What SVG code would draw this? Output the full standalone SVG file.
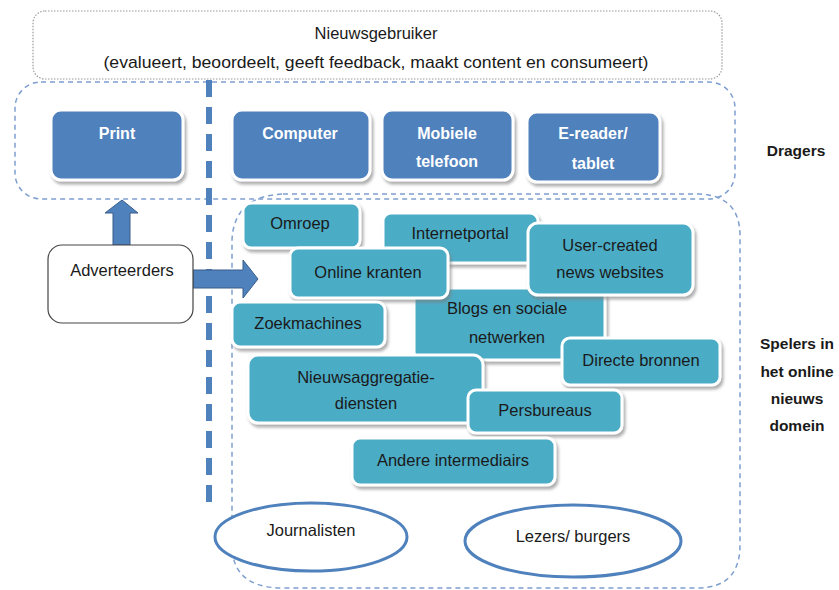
<svg xmlns="http://www.w3.org/2000/svg" width="839" height="590" viewBox="0 0 839 590">
<defs>
<style>
text{font-family:"Liberation Sans",Arial,sans-serif;font-size:16.5px;text-anchor:middle;fill:#1a1a1a}
.blue rect.b{fill:#4F81BD;stroke:#fff;stroke-width:3;filter:url(#sh)}
.blue text{fill:#fff;font-weight:bold;font-size:16px}
.teal rect{fill:#4BACC6;stroke:#fff;stroke-width:3;filter:url(#sh)}
.ell{fill:#fff;stroke:#4F81BD;stroke-width:3}
.cont{fill:none;stroke:#7F9FD0;stroke-width:1.5;stroke-dasharray:5 4}
.arrow{fill:#4F81BD;stroke:#385D8A;stroke-width:1}
.side{font-weight:bold;font-size:15.5px}
</style>
<filter id="sh" x="-10%" y="-10%" width="125%" height="135%">
<feDropShadow dx="2" dy="3" stdDeviation="1.5" flood-color="#7a7a7a" flood-opacity="0.6"/>
</filter>
</defs>
<rect width="839" height="590" fill="#fff"/>

<g id="containers">
<rect x="33" y="11" width="689" height="68" rx="12" fill="#fff" stroke="#9a9a9a" stroke-width="1.2" stroke-dasharray="1.5 1.5"/>
<rect class="cont" x="15" y="82" width="720" height="117" rx="26"/>
<path class="cont" d="M283,194 L700,194 Q740,196 740,236 L740,545 Q740,588 697,588 L283,588 Q232,588 232,545 L232,240 Q234,196 283,194 Z"/>
</g>

<g id="nieuwsgebruiker">
<text x="376" y="39">Nieuwsgebruiker</text>
<text x="376" y="68" textLength="545" lengthAdjust="spacingAndGlyphs" style="font-size:17px">(evalueert, beoordeelt, geeft feedback, maakt content en consumeert)</text>
</g>

<g id="divider">
<line x1="209" y1="80" x2="209" y2="502" stroke="#4F81BD" stroke-width="6" stroke-dasharray="17 10"/>
</g>

<g id="print" class="blue"><rect class="b" x="51" y="110" width="132" height="70" rx="10"/><text x="117" y="139">Print</text></g>
<g id="computer" class="blue"><rect class="b" x="232" y="110" width="138" height="70" rx="10"/><text x="300" y="139">Computer</text></g>
<g id="mobiele" class="blue"><rect class="b" x="382" y="110" width="131" height="70" rx="10"/><text x="447" y="139">Mobiele</text><text x="447" y="167">telefoon</text></g>
<g id="ereader" class="blue"><rect class="b" x="527" y="112" width="133" height="70" rx="10"/><text x="593" y="139">E-reader/</text><text x="593" y="169">tablet</text></g>

<g id="connectors">
<polygon class="arrow" points="113,245 113,213 105,213 122,200 138,213 130,213 130,245"/>
<polygon class="arrow" points="193,270 243,270 243,260 258,279 243,298 243,288 193,288"/>
</g>

<g id="adverteerders">
<rect x="48" y="245" width="145" height="78" rx="14" fill="#fff" stroke="#444" stroke-width="1.2"/>
<text x="122" y="276">Adverteerders</text>
</g>

<g id="omroep" class="teal"><rect x="243" y="203" width="117" height="45" rx="8"/><text x="300" y="229">Omroep</text></g>
<g id="internetportal" class="teal"><rect x="383" y="213" width="155" height="50" rx="8"/><text x="460" y="239">Internetportal</text></g>
<g id="blogs" class="teal"><rect x="414" y="288" width="191" height="72" rx="8"/><text x="507" y="314">Blogs en sociale</text><text x="507" y="343">netwerken</text></g>
<g id="usercreated" class="teal"><rect x="528" y="223" width="165" height="72" rx="10"/><text x="610" y="251">User-created</text><text x="610" y="278">news websites</text></g>
<g id="onlinekranten" class="teal"><rect x="290" y="248" width="158" height="50" rx="8"/><text x="368" y="278">Online kranten</text></g>
<g id="zoekmachines" class="teal"><rect x="232" y="302" width="153" height="45" rx="8"/><text x="308" y="329">Zoekmachines</text></g>
<g id="nieuwsaggregatie" class="teal"><rect x="248" y="355" width="235" height="68" rx="10"/><text x="366" y="383">Nieuwsaggregatie-</text><text x="366" y="409">diensten</text></g>
<g id="directebronnen" class="teal"><rect x="562" y="338" width="158" height="47" rx="8"/><text x="641" y="366">Directe bronnen</text></g>
<g id="persbureaus" class="teal"><rect x="468" y="390" width="154" height="43" rx="8"/><text x="545" y="416">Persbureaus</text></g>
<g id="andere" class="teal"><rect x="352" y="438" width="203" height="47" rx="8"/><text x="453" y="466">Andere intermediairs</text></g>

<g id="journalisten"><ellipse class="ell" cx="311" cy="537" rx="96" ry="34"/><text x="311" y="536">Journalisten</text></g>
<g id="lezers"><ellipse class="ell" cx="573" cy="541" rx="108" ry="36"/><text x="573" y="542">Lezers/ burgers</text></g>

<g id="labels">
<text class="side" x="796" y="156">Dragers</text>
<text class="side" x="797" y="349">Spelers in</text>
<text class="side" x="797" y="377">het online</text>
<text class="side" x="797" y="404">nieuws</text>
<text class="side" x="797" y="431">domein</text>
</g>
</svg>
